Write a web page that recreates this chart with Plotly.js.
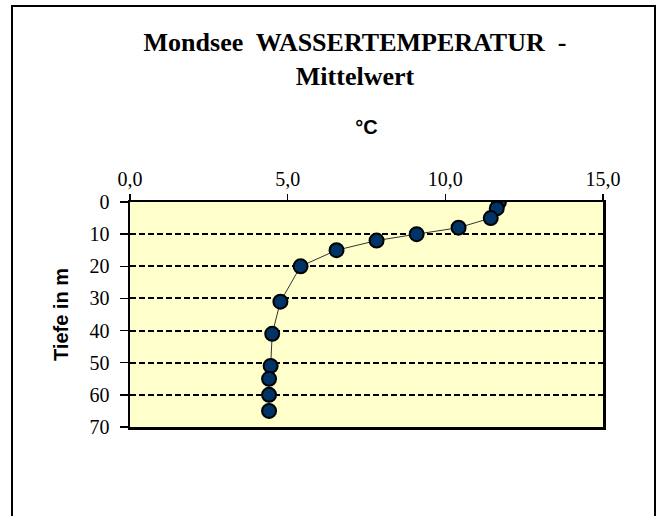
<!DOCTYPE html>
<html>
<head>
<meta charset="utf-8">
<script src="https://cdn.plot.ly/plotly-3.0.1.min.js"></script>
<style>
html, body { margin: 0; padding: 0; background: #ffffff; }
#chart { width: 659px; height: 516px; }
</style>
</head>
<body>
<div id="chart"></div>
<script>
// Data
var temperature = [11.70, 11.63, 11.44, 10.42, 9.09, 7.82, 6.55, 5.41, 4.77, 4.51, 4.46, 4.41, 4.41, 4.41];
var depth = [0, 2, 5, 8, 10, 12, 15, 20, 31, 41, 51, 55, 60, 65];
var xTickValues = [0, 5, 10, 15];
var yTickValues = [0, 10, 20, 30, 40, 50, 60, 70];

var titleText = '<b>Mondsee  WASSERTEMPERATUR  -<br>Mittelwert</b>';
var xTitleText = '<b>°C</b>';
var yTitleText = '<b>Tiefe in m</b>';

var trace = {
  x: temperature,
  y: depth,
  type: 'scatter',
  mode: 'lines+markers',
  line: { color: '#333333', width: 1 },
  marker: {
    symbol: 'circle',
    size: 14,
    color: '#003366',
    line: { color: '#000000', width: 2 }
  },
  hoverinfo: 'x+y',
  showlegend: false
};

var L = 130, R = 603, T = 202, B = 427, W = 659, H = 516;
function px2x(p) { return (p - L) / (R - L); }
function py2y(p) { return (B - p) / (B - T); }

var layout = {
  width: W,
  height: H,
  margin: { l: L, r: W - R, t: T, b: H - B, pad: 0 },
  paper_bgcolor: '#ffffff',
  plot_bgcolor: '#FFFFCC',
  separators: ',.',
  title: {
    text: titleText,
    font: { family: 'Liberation Serif, Times New Roman, serif', size: 26, color: '#000000' },
    xref: 'container', x: 355 / W, xanchor: 'center',
    yref: 'container', y: 1 - 51 / H, yanchor: 'top'
  },
  xaxis: {
    side: 'top',
    range: [0, 15],
    tickvals: xTickValues,
    tickformat: '.1f',
    ticks: 'outside',
    ticklen: 6,
    tickwidth: 1.5,
    tickcolor: '#000000',
    showgrid: false,
    zeroline: false,
    showline: true,
    linecolor: '#000000',
    linewidth: 2.5,
    mirror: true,
    automargin: false,
    tickfont: { family: 'Liberation Serif, Times New Roman, serif', size: 20, color: '#000000' },
    title: {
      text: xTitleText,
      font: { family: 'Liberation Sans, Arial, sans-serif', size: 20, color: '#000000' },
      standoff: 28
    }
  },
  yaxis: {
    range: [70, 0],
    tickvals: yTickValues,
    ticks: 'outside',
    ticklen: 8,
    tickwidth: 1.5,
    tickcolor: '#000000',
    ticklabelstandoff: 6,
    showgrid: true,
    gridcolor: '#000000',
    gridwidth: 2,
    griddash: '6px,3px',
    zeroline: false,
    showline: true,
    linecolor: '#000000',
    linewidth: 2.5,
    mirror: true,
    automargin: false,
    tickfont: { family: 'Liberation Serif, Times New Roman, serif', size: 20, color: '#000000' },
    title: {
      text: yTitleText,
      font: { family: 'Liberation Sans, Arial, sans-serif', size: 20, color: '#000000' },
      standoff: 16
    }
  },
  shapes: [{
    type: 'rect',
    xref: 'paper', yref: 'paper',
    x0: px2x(12), x1: px2x(655),
    y0: py2y(540), y1: py2y(6),
    line: { color: '#000000', width: 2 },
    fillcolor: 'rgba(0,0,0,0)',
    layer: 'below'
  }]
};

Plotly.newPlot('chart', [trace], layout, { displayModeBar: false, staticPlot: true });
</script>
</body>
</html>
